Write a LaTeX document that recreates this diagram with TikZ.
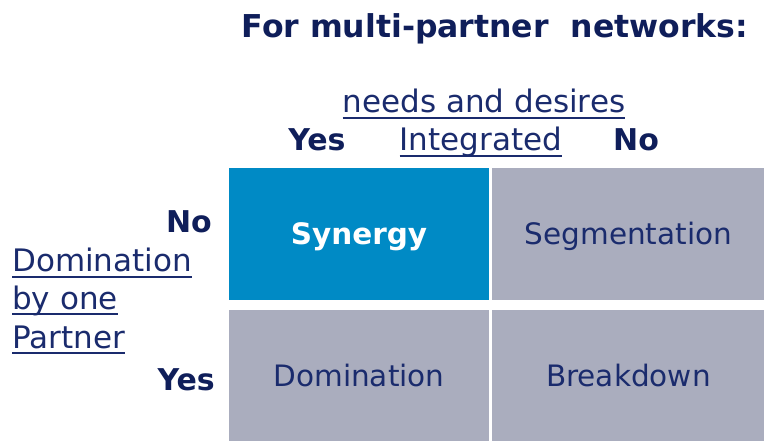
\documentclass[tikz,border=0pt]{standalone}
\usepackage{fontspec}
\setmainfont{DejaVu Sans}
\usepackage{tikz}
\usetikzlibrary{positioning}
\definecolor{navy}{HTML}{1A2B6D}
\definecolor{darknavy}{HTML}{0F1E5A}
\definecolor{synblue}{HTML}{008AC5}
\definecolor{cellgray}{HTML}{AAADBE}
\tikzstyle{heading} = [font=\bfseries\fontsize{31.5}{37}\selectfont, text=darknavy, inner sep=0pt, anchor=base]
\tikzstyle{axis} = [font=\fontsize{31}{38}\selectfont, text=navy, inner sep=0pt]
\tikzstyle{answer} = [font=\bfseries\fontsize{30}{36}\selectfont, text=darknavy, inner sep=0pt]
\tikzstyle{cell} = [rectangle, fill=cellgray, text=navy, minimum height=131pt, inner sep=0pt, text height=21.5pt, text depth=0pt, font=\fontsize{29.5}{35}\selectfont]
\tikzstyle{underline} = [draw=navy, line width=2pt]
\begin{document}
\begin{tikzpicture}[x=1pt, y=-1pt]
            \useasboundingbox (0,0) rectangle (764,441);
            % the four quadrants
            \node[cell, fill=synblue, text=white, font=\bfseries\fontsize{29.5}{35}\selectfont, minimum width=260pt, minimum height=132pt] (synergy) at (359,234) {Synergy};
            \node[cell, minimum width=272pt, minimum height=132pt, right=3pt of synergy] (segmentation) {Segmentation};
            \node[cell, minimum width=260pt, below=10pt of synergy] (domination) {Domination};
            \node[cell, minimum width=272pt, right=3pt of domination] (breakdown) {Breakdown};

            \node[heading] (title) at (495,38) {For multi-partner\ \ networks:};

            \node[axis, anchor=base] (needs) at (484,113) {needs and desires};
            \node[axis, anchor=base] (integrated) at (481,151) {Integrated};
            \node[answer, anchor=base] (top-yes) at (317,151) {Yes};
            \node[answer, anchor=base] (top-no) at (636,151) {No};

            \node[answer, anchor=base east] (left-no) at (212,233) {No};
            \node[axis, anchor=base west] (dom-1) at (12,272) {Domination};
            \node[axis, anchor=base west] (dom-2) at (12,309) {by one};
            \node[axis, anchor=base west] (dom-3) at (12,348) {Partner};
            \node[answer, anchor=base east] (left-yes) at (215,390) {Yes};

            % underlined labels
            \foreach \n in {needs, integrated, dom-1, dom-2, dom-3}
                \draw[underline] ([yshift=-5pt]\n.base west) -- ([yshift=-5pt]\n.base east);
        \end{tikzpicture}
\end{document}
